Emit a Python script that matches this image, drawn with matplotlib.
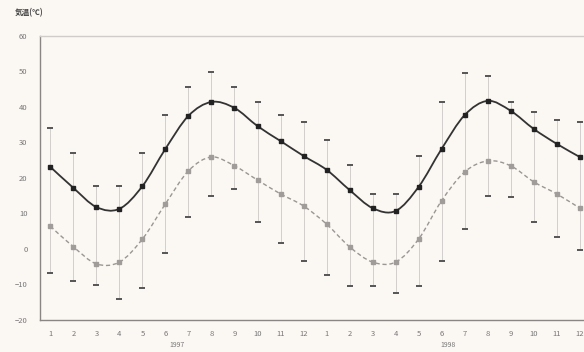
import matplotlib
matplotlib.use("Agg")
import matplotlib.pyplot as plt
import numpy as np
from matplotlib.path import Path
from matplotlib.patches import PathPatch

plt.rcParams['font.family'] = ['Noto Sans CJK JP', 'DejaVu Sans']

months = [1, 2, 3, 4, 5, 6, 7, 8, 9, 10, 11, 12] * 2
years = ["1997", "1998"]

# monthly mean (black) and its max dash
upper_mean = [23.1, 17.2, 11.8, 11.3, 17.7, 28.2, 37.5, 41.4, 39.7, 34.6, 30.4, 26.2,
              22.3, 16.6, 11.5, 10.7, 17.5, 28.2, 37.7, 41.7, 38.9, 33.8, 29.6, 25.9]
upper_max = [34.0, 27.0, 17.7, 17.7, 27.0, 37.7, 45.6, 49.9, 45.6, 41.4, 37.7, 35.8,
             30.7, 23.7, 15.5, 15.5, 26.2, 41.4, 49.6, 48.7, 41.4, 38.6, 36.3, 35.8]
# lower mean (grey) and its min dash
lower_mean = [6.4, 0.6, -4.2, -3.7, 2.8, 12.7, 22.0, 25.9, 23.4, 19.4, 15.5, 12.1,
              7.0, 0.6, -3.7, -3.7, 2.8, 13.6, 21.7, 24.8, 23.4, 18.9, 15.5, 11.5]
lower_min = [-6.8, -9.0, -10.1, -14.1, -11.0, -1.1, 9.0, 14.9, 16.9, 7.6, 1.7, -3.4,
             -7.3, -10.4, -10.4, -12.4, -10.4, -3.4, 5.6, 14.9, 14.6, 7.6, 3.4, -0.3]

BG = "#fbf7f3"


def smooth_path(xs, ys):
    # Catmull-Rom through the points as cubic bezier segments
    pts = np.column_stack([xs, ys]).astype(float)
    verts = [pts[0]]
    codes = [Path.MOVETO]
    n = len(pts)
    for i in range(n - 1):
        p0 = pts[i - 1] if i > 0 else pts[i]
        p1, p2 = pts[i], pts[i + 1]
        p3 = pts[i + 2] if i + 2 < n else pts[i + 1]
        verts += [p1 + (p2 - p0) / 6, p2 - (p3 - p1) / 6, p2]
        codes += [Path.CURVE4] * 3
    return Path(verts, codes)


fig = plt.figure(figsize=(5.84, 3.52), dpi=100, facecolor=BG)
ax = fig.add_axes([0.0685, 0.091, 0.94, 0.807], facecolor=BG)

x = np.arange(len(months))

# range lines
ax.vlines(x, lower_min, upper_max, color="#d2cecc", linewidth=0.7, zorder=1)

ax.add_patch(PathPatch(smooth_path(x, upper_mean), fill=False, edgecolor="#333333",
                       linewidth=1.3, zorder=3))
ax.add_patch(PathPatch(smooth_path(x, lower_mean), fill=False, edgecolor="#9a9694",
                       linewidth=1.0, linestyle=(0, (3, 2)), zorder=3))

ax.plot(x, upper_mean, "s", color="#222222", markersize=3.5, zorder=4)
ax.plot(x, lower_mean, "s", color="#a09c9a", markersize=3.5, zorder=4)
ax.plot(x, upper_max, "_", color="#555555", markersize=4, markeredgewidth=1.4, zorder=4)
ax.plot(x, lower_min, "_", color="#555555", markersize=4, markeredgewidth=1.4, zorder=4)

ax.set_xlim(-0.45, 23.4)
ax.set_ylim(-20, 60)
ax.set_xticks(x)
ax.set_xticklabels([str(m) for m in months])
ax.set_yticks(np.arange(-20, 61, 10))
ax.tick_params(axis="both", length=0, labelsize=5.5, colors="#777777", pad=7)
ax.tick_params(axis="y", pad=9)

for s in ["left", "bottom", "top"]:
    ax.spines[s].set_color("#8a8684")
    ax.spines[s].set_linewidth(1.0)
ax.spines["top"].set_color("#d0ccca")
ax.spines["right"].set_visible(False)

ax.text(5.5, -0.075, years[0], transform=ax.get_xaxis_transform(), ha="center",
        va="top", fontsize=5, color="#777777")
ax.text(17.3, -0.075, years[1], transform=ax.get_xaxis_transform(), ha="center",
        va="top", fontsize=5, color="#777777")
fig.text(0.025, 0.965, "気温(℃)", fontsize=5.5, color="#444444", ha="left", va="center",
         weight="bold")

fig.savefig("out.png", dpi=100, facecolor=BG)
